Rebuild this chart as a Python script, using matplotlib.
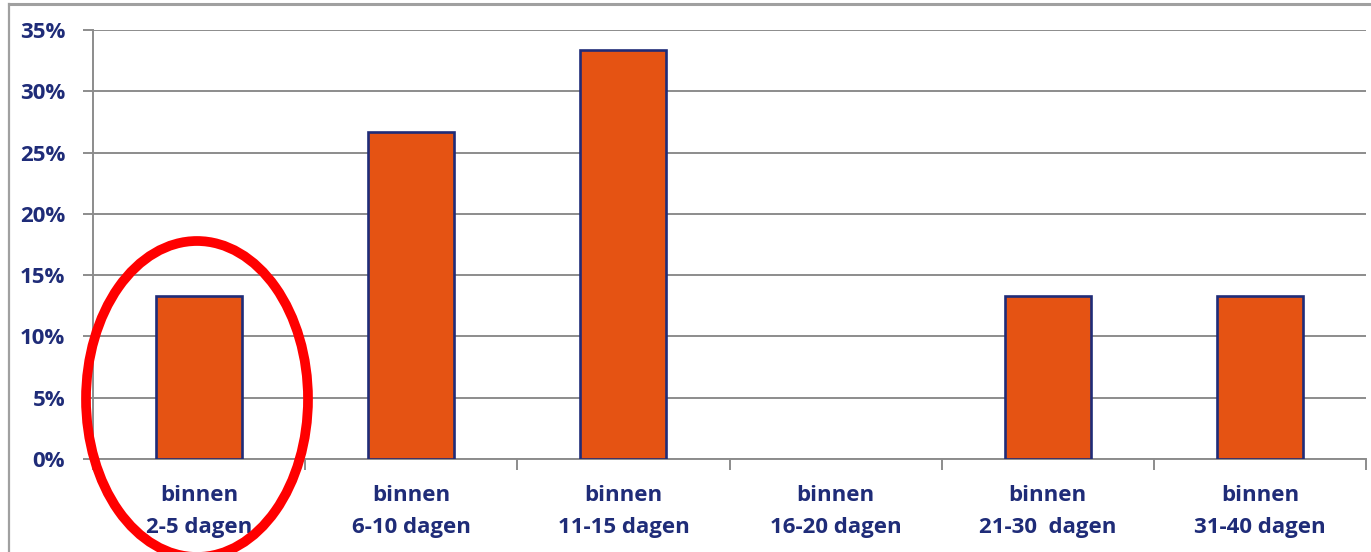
import matplotlib
matplotlib.use("Agg")
import matplotlib.pyplot as plt
from matplotlib.patches import Ellipse
from matplotlib.lines import Line2D
from matplotlib.ticker import FuncFormatter, FixedLocator
import numpy as np

categories = ["binnen\n2-5 dagen", "binnen\n6-10 dagen", "binnen\n11-15 dagen",
              "binnen\n16-20 dagen", "binnen\n21-30  dagen", "binnen\n31-40 dagen"]
values = [13.33, 26.67, 33.33, 0.0, 13.33, 13.33]
yticks = [0, 5, 10, 15, 20, 25, 30, 35]

NAVY = "#1F2C78"
ORANGE = "#E55313"
GRID = "#8C8C8C"

plt.rcParams['font.family'] = ['Open Sans', 'DejaVu Sans']

fig = plt.figure(figsize=(13.71, 5.52), dpi=100)
ax = fig.add_axes([93/1371, 1 - 459/552, 1273/1371, 429/552])

x = np.arange(len(categories))
edge_w = [1.9 if v > 0 else 0 for v in values]
ax.bar(x, values, width=0.405, color=ORANGE, edgecolor=NAVY, linewidth=edge_w, zorder=3)

ax.set_xlim(-0.5, len(categories) - 0.5)
ax.set_ylim(0, 35)
ax.yaxis.set_major_locator(FixedLocator(yticks))
ax.yaxis.set_major_formatter(FuncFormatter(lambda v, p: f"{int(v)}%"))
ax.grid(axis='y', color=GRID, linewidth=1.4, zorder=0)
ax.tick_params(axis='y', length=7, width=1.4, color=GRID, pad=13,
               labelsize=16, labelcolor=NAVY)
for lbl in ax.get_yticklabels():
    lbl.set_fontweight('bold')

ax.set_xticks(x)
ax.set_xticklabels(categories, fontsize=16, fontweight='bold', color=NAVY,
                   linespacing=1.65)
ax.set_xticks(np.arange(-0.5, len(categories)), minor=True)
ax.tick_params(axis='x', which='major', length=0, pad=19)
ax.tick_params(axis='x', which='minor', length=8, width=1.4, color=GRID)

for s in ['top', 'right']:
    ax.spines[s].set_visible(False)
ax.spines['left'].set_color(GRID)
ax.spines['left'].set_linewidth(1.4)
ax.spines['bottom'].set_color(GRID)
ax.spines['bottom'].set_linewidth(1.4)

# outer frame (partly visible)
fig.add_artist(Line2D([9/1371, 1], [1 - 4/552, 1 - 4/552], transform=fig.transFigure,
                      color="#A0A0A0", linewidth=2.2))
fig.add_artist(Line2D([9/1371, 9/1371], [0, 1 - 4/552], transform=fig.transFigure,
                      color="#A0A0A0", linewidth=1.6))

# red highlight ellipse
fig.add_artist(Ellipse((197/1371, 1 - 399/552), 222/1371, 316/552,
                       transform=fig.transFigure, fill=False, edgecolor="#FF0000",
                       linewidth=7, zorder=10))

fig.savefig("out.png", dpi=100)
